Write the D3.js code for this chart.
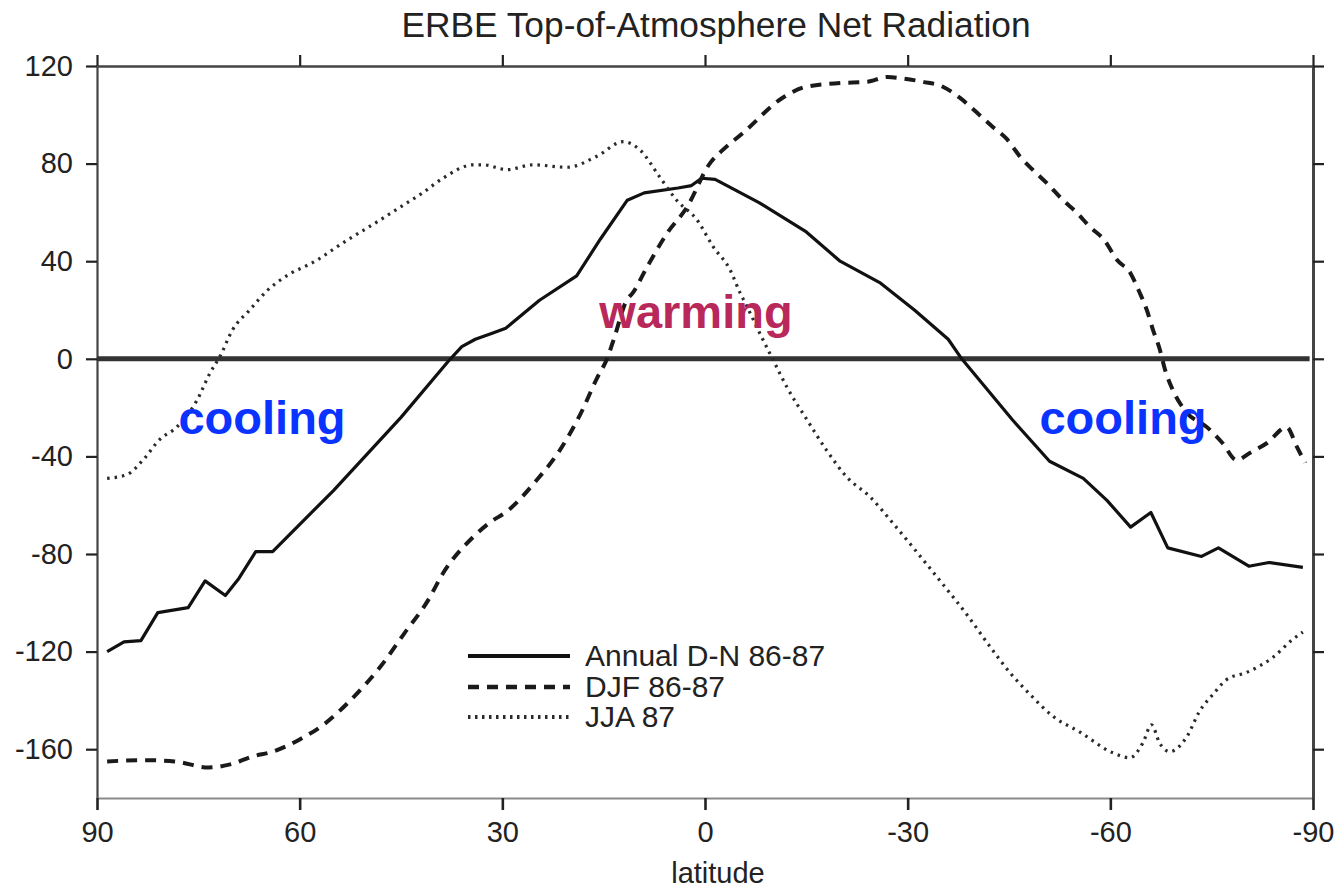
<!DOCTYPE html>
<html><head><meta charset="utf-8">
<script src="https://cdn.jsdelivr.net/npm/d3@7"></script>
<style>
html,body{margin:0;padding:0;background:#fff;}
svg{display:block;}
text{font-family:"Liberation Sans",Arial,Helvetica,sans-serif;}
</style></head>
<body><svg id="chart" width="1337" height="889"></svg>
<script>
// ---- data ----
const xTicks = [90, 60, 30, 0, -30, -60, -90];
const yTicks = [-160, -120, -80, -40, 0, 40, 80, 120];
const seriesNames = ["Annual D-N 86-87", "DJF 86-87", "JJA 87"];

const annualLat = [88.5,86,83.5,81,76.5,74,71,69,66.5,64,55,45,38,36,34,31.5,29.5,24.5,19,15.5,11.5,9,4,2,0.5,-1.5,-8,-15,-20,-26,-31,-36,-38,-45.5,-51,-56,-59.5,-63,-66,-68.5,-73.5,-76,-80.5,-83.5,-88.5];
const annualVal = [-120,-116,-115.5,-104,-102,-91,-97,-90,-79,-79,-54,-24,-1,5,8,10.5,12.5,24,34,49,65,68,70,71,74,73.5,64,52,40,31,20,8,0,-25,-42,-49,-58,-69,-63,-77.5,-81,-77.5,-85,-83.5,-85.5];

const djfLat = [88.5,83,78.5,73.5,70,67,64,60,56.5,52.5,48,44.5,41,38.8,34.3,31.8,29.3,25,21.5,18.5,16,14.5,13.5,11.6,10.7,8.6,5.6,2.7,-0.7,-2.6,-5.6,-11.5,-15,-20,-24,-27,-29,-32.3,-35.2,-37.7,-40.2,-42.6,-44.7,-46.6,-48.5,-50.6,-53,-55,-57,-59,-61,-63,-64.2,-65.4,-66.3,-67.3,-68.1,-69.2,-71.3,-74.3,-76.6,-78.7,-80.7,-83.2,-86.1,-87.6,-88.8];
const djfVal = [-165,-164.5,-165,-167.5,-166,-163,-161,-156,-150,-140,-126,-112.5,-99,-88,-73,-67,-62.5,-50,-37.5,-23,-8,0,8,24,27,37.5,51.5,62,80,85.5,92.5,107,111.5,113,113.5,115.5,115,113.5,111.5,107,101,95,90,83,77.5,72,65,60,54,49,40.5,35,28,20,12,4,-4.5,-12.5,-22,-28,-34.5,-41.5,-38.5,-34.5,-28,-36,-42.5];

const jjaLat = [88.5,85.6,83.2,80.7,78.2,75.2,73.3,71.8,69.9,67.4,64.8,62.5,57.4,53.6,48.6,45.2,41.8,38.8,34.3,32.8,29.3,25.5,20.4,16,12.1,9.6,6.7,4.2,1.2,-1.2,-3.7,-5.2,-6.2,-8.1,-10,-12.1,-15.1,-18,-21,-24.4,-27.4,-31,-34.8,-38.8,-42.2,-45.1,-48.1,-51.5,-55.5,-60.4,-62.9,-64.8,-66.1,-67.3,-68.8,-71.3,-73.2,-75.2,-77.2,-80.2,-84,-87,-88.5];
const jjaVal = [-49,-47.5,-41.5,-33,-28,-17,-6,1,12,20,28,33,40.5,47.5,56,62,68,74,79.5,79.5,77.5,79.5,78.5,83,89,85.5,74.5,65,57,46,36.5,27,21.5,10.5,0,-11.5,-25,-37.5,-48.5,-56.5,-66,-78,-91,-105,-118,-128.5,-137.5,-146.5,-153,-161.5,-163.5,-157.5,-150,-157.5,-161,-155,-144.5,-137.5,-131.5,-128.5,-122.5,-115,-112];

// ---- layout ----
const svg = d3.select("#chart");
const L = 97, R = 1313, T = 66, B = 798;
const x = d3.scaleLinear().domain([90, -90]).range([L, R]);
const y = d3.scaleLinear().domain([-180, 120]).range([B, T]);

const styles = [
  {w: 3.2, dash: null, color: "#111", curve: d3.curveLinear},
  {w: 4, dash: "11,8", color: "#1a1a1a", curve: d3.curveMonotoneX},
  {w: 3.2, dash: "2.5,5", color: "#2a2a2a", curve: d3.curveMonotoneX}
];

// title
svg.append("text").attr("x", 716).attr("y", 37).attr("text-anchor", "middle")
  .attr("font-size", 35.3).attr("fill", "#222").text("ERBE Top-of-Atmosphere Net Radiation");

// axes
const fs = 29;
const fmt = d => String(d);
const gL = svg.append("g").attr("transform", `translate(${L},0)`)
  .call(d3.axisLeft(y).tickValues(yTicks).tickFormat(fmt).tickSize(11).tickSizeOuter(0).tickPadding(13));
const gB = svg.append("g").attr("transform", `translate(0,${B})`)
  .call(d3.axisBottom(x).tickValues(xTicks).tickFormat(fmt).tickSize(12).tickSizeOuter(0).tickPadding(11));
const gT = svg.append("g").attr("transform", `translate(0,${T})`)
  .call(d3.axisTop(x).tickValues(xTicks).tickSize(11).tickSizeOuter(0).tickFormat(""));
const gR = svg.append("g").attr("transform", `translate(${R},0)`)
  .call(d3.axisRight(y).tickValues(yTicks).tickSize(11).tickSizeOuter(0).tickFormat(""));

[gL, gB, gT, gR].forEach(g => {
  g.selectAll("text").attr("font-size", fs).attr("fill", "#222")
   .attr("font-family", '"Liberation Sans",Arial,sans-serif');
  g.selectAll(".tick line").attr("stroke", "#222").attr("stroke-width", 2.2);
});
gL.select(".domain").attr("stroke", "#444").attr("stroke-width", 2.2);
gT.select(".domain").attr("stroke", "#444").attr("stroke-width", 2.6);
gR.select(".domain").attr("stroke", "#444").attr("stroke-width", 3);
gB.select(".domain").attr("stroke", "#8a8a8a").attr("stroke-width", 2);
gB.selectAll(".tick line").attr("stroke-width", 2.6);

// x label
svg.append("text").attr("x", 718).attr("y", 883).attr("text-anchor", "middle")
  .attr("font-size", fs).attr("fill", "#222").text("latitude");

// zero line
svg.append("line").attr("x1", x(90)).attr("x2", x(-89.5)).attr("y1", y(0)).attr("y2", y(0))
  .attr("stroke", "#333").attr("stroke-width", 5);

// series
const data = [
  annualLat.map((d, i) => [d, annualVal[i]]),
  djfLat.map((d, i) => [d, djfVal[i]]),
  jjaLat.map((d, i) => [d, jjaVal[i]])
];
data.forEach((pts, i) => {
  const s = styles[i];
  const line = d3.line().x(d => x(d[0])).y(d => y(d[1])).curve(s.curve);
  const p = svg.append("path").datum(pts).attr("d", line)
    .attr("fill", "none").attr("stroke", s.color).attr("stroke-width", s.w)
    .attr("stroke-linejoin", "round");
  if (s.dash) p.attr("stroke-dasharray", s.dash);
});

// annotations
svg.append("text").attr("x", 262).attr("y", 434).attr("text-anchor", "middle")
  .attr("font-size", 47).attr("font-weight", "bold").attr("fill", "#0a33ff").text("cooling");
svg.append("text").attr("x", 1123).attr("y", 434).attr("text-anchor", "middle")
  .attr("font-size", 47).attr("font-weight", "bold").attr("fill", "#0a33ff").text("cooling");
svg.append("text").attr("x", 696).attr("y", 328).attr("text-anchor", "middle")
  .attr("font-size", 47).attr("font-weight", "bold").attr("fill", "#b9285a").text("warming");

// legend
const legY = [656, 687, 717];
seriesNames.forEach((name, i) => {
  const s = styles[i];
  const ln = svg.append("line").attr("x1", 468).attr("x2", 570).attr("y1", legY[i]).attr("y2", legY[i])
    .attr("stroke", s.color).attr("stroke-width", s.w + 0.6);
  if (s.dash) ln.attr("stroke-dasharray", i === 2 ? "2.5,4.5" : s.dash);
  svg.append("text").attr("x", 585).attr("y", legY[i] + 10).attr("font-size", 30)
    .attr("fill", "#222").text(name);
});
</script></body></html>
